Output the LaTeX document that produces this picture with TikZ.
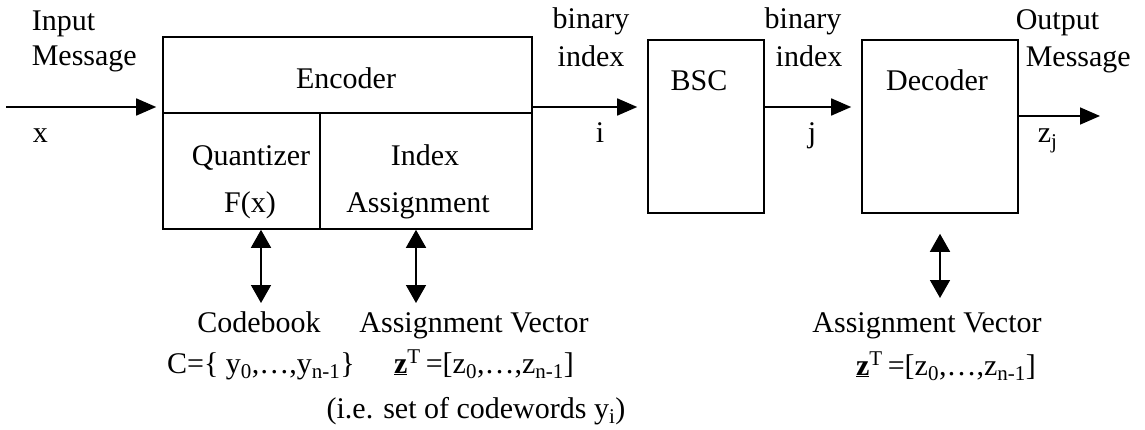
\documentclass[tikz,border=0pt]{standalone}
\usepackage{fontspec}
\setmainfont{Liberation Serif}
\usetikzlibrary{arrows.meta}
\begin{document}
\begin{tikzpicture}[x=1pt,y=-1pt,
  font=\fontsize{30}{36}\selectfont,
  line width=1.6pt,
  box/.style={draw, rectangle, inner sep=0pt},
  cell/.style={rectangle, inner sep=0pt},
  lbl/.style={inner sep=0pt, anchor=base},
  lblw/.style={inner sep=0pt, anchor=base west},
  arr/.style={-{Triangle[length=20pt,width=17pt]}},
  dbl/.style={{Triangle[length=18pt,width=20pt]}-{Triangle[length=18pt,width=20pt]}}]
\useasboundingbox (0,0) rectangle (1145,430);

% blocks
\node[box, minimum width=369pt, minimum height=192pt] (enc) at (347.5,133) {};
\node[box, minimum width=116pt, minimum height=173pt] (bsc) at (706,126.5) {};
\node[box, minimum width=156pt, minimum height=173pt] (dec) at (940,126.5) {};

% encoder subdivisions
\node[cell, minimum width=156pt, minimum height=115pt] (quant) at (241,171.5) {};
\node[cell, minimum width=213pt, minimum height=115pt] (idx) at (425.5,171.5) {};
\draw (enc.west |- quant.north) -- (enc.east |- quant.north);
\draw (quant.north east) -- (quant.south east);

% block texts
\node[lbl] (encT) at (346,89) {Encoder};
\node[lbl] (quantT) at (251,166) {Quantizer};
\node[lbl] (fxT) at (250,213) {F(x)};
\node[lbl] (idxT) at (425,166) {Index};
\node[lbl] (asgT) at (418,213) {Assignment};
\node[lbl] (bscT) at (699,91) {BSC};
\node[lbl] (decT) at (937,91) {Decoder};

% signal labels
\node[lblw] (inA) at (31,31) {Input};
\node[lblw] (inB) at (31,66) {Message};
\node[lblw] (xT) at (32,143) {x};
\node[lbl] (binA) at (591,29) {binary};
\node[lbl] (idxA) at (591,67) {index};
\node[lbl] (iT) at (600,143) {i};
\node[lbl] (binB) at (803,29) {binary};
\node[lbl] (idxB) at (809,67) {index};
\node[lbl] (jT) at (812,143) {j};
\node[lblw] (outA) at (1015,30) {Output};
\node[lblw] (outB) at (1025,67) {Message};
\node[lblw] (zjT) at (1037,143) {z\textsubscript{j}};

% side information
\node[lbl] (cb) at (259,332) {Codebook};
\node[lbl] (cbset) at (261,373) {C=\{ y\textsubscript{0},\ldots,y\textsubscript{n-1}\}};
\node[lbl] (av) at (474,332) {Assignment Vector};
\node[lbl] (avvec) at (484,373) {\underline{\textbf{z}}\textsuperscript{T}\,=[z\textsubscript{0},\ldots,z\textsubscript{n-1}]};
\node[lbl] (ie) at (476,418) {(i.e. set of codewords y\textsubscript{i})};
\node[lbl] (av2) at (927,332) {Assignment Vector};
\node[lbl] (avvec2) at (946,375) {\underline{\textbf{z}}\textsuperscript{T}\,=[z\textsubscript{0},\ldots,z\textsubscript{n-1}]};

% signal path
\coordinate (src) at (6,107);
\coordinate (snk) at (1100,116);
\draw[arr, shorten >=6pt] (src) -- ([yshift=26pt]enc.west);
\draw[arr, shorten >=10pt] ([yshift=26pt]enc.east) -- ([yshift=19.5pt]bsc.west);
\draw[arr, shorten >=10pt] ([yshift=19.5pt]bsc.east) -- ([yshift=19.5pt]dec.west);
\draw[arr] ([yshift=10.5pt]dec.east) -- (snk);

% side links
\draw[dbl] (quant.south -| cbset) -- (cbset |- 0,303);
\draw[dbl] (idx.south -| 416,0) -- (416,303);
\draw[dbl] ([yshift=-20pt]dec.south) -- (940,298);
\end{tikzpicture}
\end{document}
